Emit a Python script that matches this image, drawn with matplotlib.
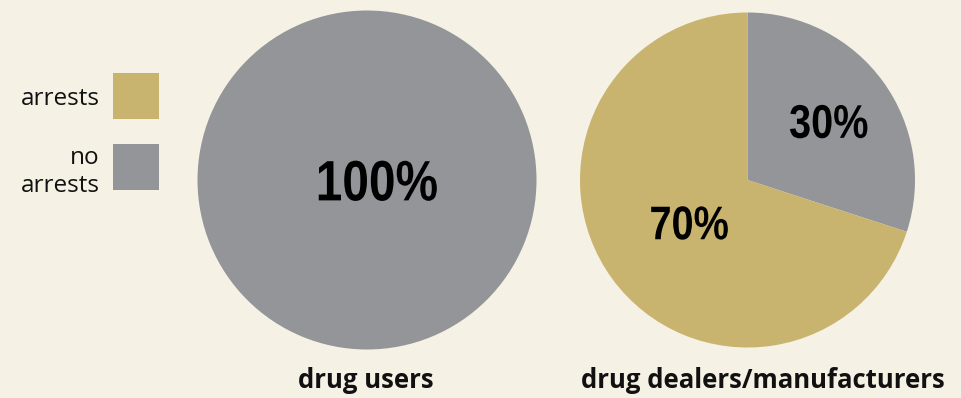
import numpy as np
import matplotlib.pyplot as plt
from matplotlib.patheffects import AbstractPathEffect
from matplotlib.transforms import Affine2D

W, H = 961, 398

categories = ["arrests", "no\narrests"]
groups = ["drug users", "drug dealers/manufacturers"]
users = [0, 100]
dealers = [70, 30]

BG = "#f5f1e4"
TAN = "#c8b46e"
GRAY = "#949599"
colors = [TAN, GRAY]

NUM_FONT = ["Liberation Sans", "DejaVu Sans"]
TXT_FONT = ["Open Sans", "DejaVu Sans"]


class Condense(AbstractPathEffect):
    """Squeeze glyphs horizontally around x0 (display pixels)."""

    def __init__(self, sx, x0):
        super().__init__()
        self.sx = sx
        self.x0 = x0

    def draw_path(self, renderer, gc, tpath, affine, rgbFace=None):
        squeeze = Affine2D().translate(-self.x0, 0).scale(self.sx, 1).translate(self.x0, 0)
        renderer.draw_path(gc, tpath, affine + squeeze, rgbFace)


fig = plt.figure(figsize=(W / 100, H / 100), dpi=100, facecolor=BG)
ax = fig.add_axes([0, 0, 1, 1])


def py(y):
    return H - y


def pct_label(x, y, v, size):
    # y is the vertical middle of the digits
    base = py(y) - size * 100 / 72 * 0.716 / 2
    ax.text(x, base, f"{v}%", ha="center", va="baseline", fontsize=size,
            fontweight="bold", family=NUM_FONT, color="black",
            path_effects=[Condense(0.84, x)])


def draw_pie(vals, cx, cy, r, label_dist, sizes, nudge=(0, 0)):
    # wedges run clockwise from 12 o'clock, "no arrests" first
    order = [vals[1], vals[0]]
    cols = [colors[1], colors[0]]
    ax.pie(order, colors=cols, startangle=90, counterclock=False,
           center=(cx, py(cy)), radius=r, frame=True,
           wedgeprops=dict(linewidth=0))
    start = 90
    for v, d, s in zip(order, label_dist, sizes):
        if v == 0:
            continue
        mid = np.deg2rad(start - v * 3.6 / 2)
        start -= v * 3.6
        pct_label(cx + d * r * np.cos(mid) + nudge[0],
                  cy - d * r * np.sin(mid) + nudge[1], v, s)


draw_pie(users, 367, 180, 169.5, [0.0, 0.0], [41, 41], nudge=(10, 0))
draw_pie(dealers, 747.5, 180, 167.5, [0.6, 0.43], [34, 34])
ax.set_xlim(0, W)
ax.set_ylim(0, H)
ax.set_aspect("equal")
ax.axis("off")

# group names under the pies
ax.text(366, py(381), groups[0], ha="center", va="center", fontsize=18.5,
        fontweight="bold", family=TXT_FONT, color="#111111")
ax.text(763, py(381), groups[1], ha="center", va="center", fontsize=18.5,
        fontweight="bold", family=TXT_FONT, color="#111111")

# legend
for i, (lab, col) in enumerate(zip(categories, colors)):
    top = 73 + i * 71
    ax.add_patch(plt.Rectangle((113, py(top + 46)), 46, 46, color=col, lw=0))
    ax.text(100, py(105 + i * 87), lab, ha="right", va="baseline", fontsize=17.5,
            family=TXT_FONT, linespacing=1.25, color="#111111")

fig.savefig("out.png", dpi=100, facecolor=BG)
